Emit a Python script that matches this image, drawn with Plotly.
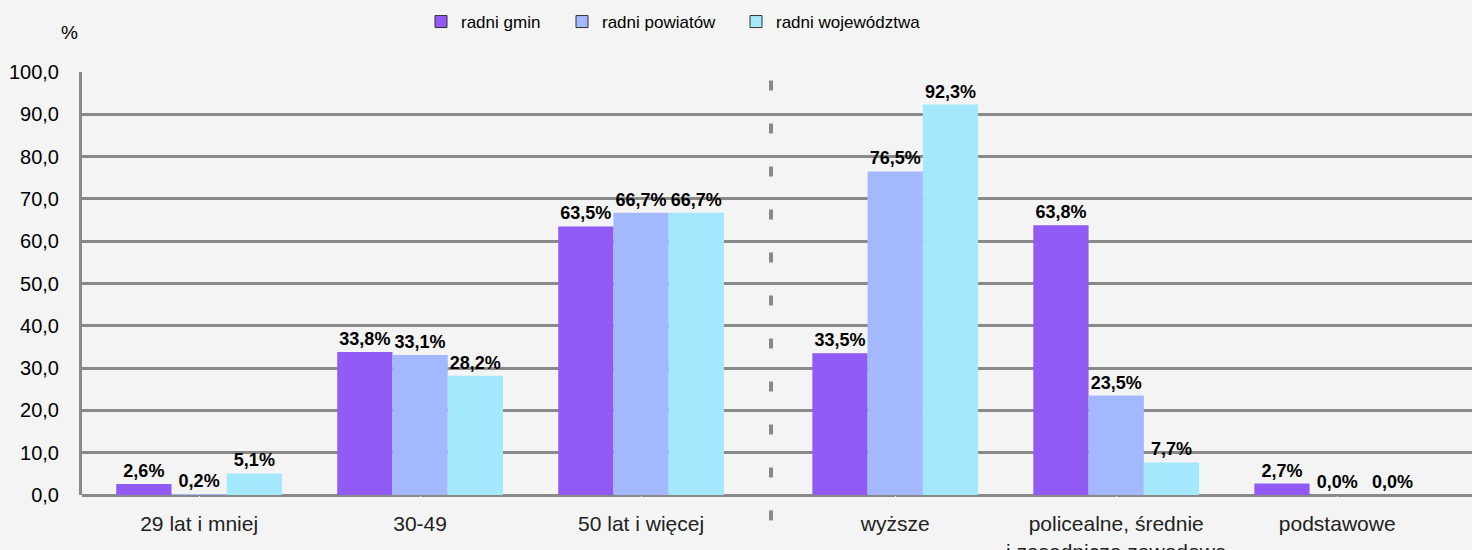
import plotly.graph_objects as go

categories = ["29 lat i mniej", "30-49", "50 lat i więcej", "wyższe",
              "policealne, średnie<br>i zasadnicze zawodowe", "podstawowe"]
cat_pos = [0, 1, 2, 3.15, 4.15, 5.15]
series_names = ["radni gmin", "radni powiatów", "radni województwa"]
gmin = [2.6, 33.8, 63.5, 33.5, 63.8, 2.7]
powiatow = [0.2, 33.1, 66.7, 76.5, 23.5, 0.0]
wojewodztwa = [5.1, 28.2, 66.7, 92.3, 7.7, 0.0]
colors = ["#915AF5", "#A3B8FF", "#A3E8FD"]
yticks = [0, 10, 20, 30, 40, 50, 60, 70, 80, 90, 100]
legend_x_px = [421, 562, 736]
BG = "#F4F4F4"
FONT = "Liberation Sans, Arial, sans-serif"

fig = go.Figure()
for name, vals, col in zip(series_names, [gmin, powiatow, wojewodztwa], colors):
    fig.add_trace(go.Bar(
        x=cat_pos, y=vals, name=name, offsetgroup=name,
        marker=dict(color=col, line=dict(width=0)),
        texttemplate="%{y:.1f}%", textposition="outside", cliponaxis=False,
        constraintext="none",
        textfont=dict(family=FONT, size=18, color="black", weight="bold"),
        showlegend=False, hoverinfo="skip"))

legend_ids = ["legend", "legend2", "legend3"]
for name, col, lid in zip(series_names, colors, legend_ids):
    fig.add_trace(go.Bar(x=[None], y=[None], name=name, offsetgroup=name, legend=lid,
                         marker=dict(color=col, line=dict(color="#333333", width=1))))

fig.add_shape(type="line", xref="x", yref="paper", x0=2.588, x1=2.588, y0=-0.06, y1=1.04,
              line=dict(color="#898989", width=4, dash="10px,33px"))

fig.add_annotation(text="%", xref="paper", yref="paper", x=(69 - 82) / 1390, y=(495 - 32) / 423,
                   xanchor="center", yanchor="middle",
                   showarrow=False, font=dict(family=FONT, size=19, color="black"))

legend_common = dict(orientation="h", xref="container", yref="container",
                     xanchor="left", y=1 - 22 / 550, yanchor="middle",
                     font=dict(size=17, family=FONT, color="black"), bgcolor="rgba(0,0,0,0)")
legend_layout = {}
for lid, px in zip(legend_ids, legend_x_px):
    legend_layout[lid] = dict(legend_common, x=px / 1472)

fig.update_layout(
    width=1472, height=550,
    margin=dict(l=82, r=0, t=72, b=55, autoexpand=False),
    paper_bgcolor=BG, plot_bgcolor=BG,
    barmode="group", bargap=0.25, bargroupgap=0,
    separators=", ",
    font=dict(family=FONT, size=20, color="black"),
    xaxis=dict(range=[-0.53, 5.76], tickvals=cat_pos, ticktext=categories,
               showgrid=False, zeroline=False, showline=False,
               ticks="outside", ticklen=10, tickcolor=BG,
               tickfont=dict(size=21, color="#222222")),
    yaxis=dict(range=[0, 100], tickvals=yticks, tickformat=".1f",
               showgrid=True, gridcolor="#898989", gridwidth=3,
               zeroline=True, zerolinecolor="#898989", zerolinewidth=3,
               showline=True, linecolor="#898989", linewidth=3,
               ticks="outside", ticklen=16, tickcolor=BG,
               tickfont=dict(size=20, color="black")),
    **legend_layout,
)

fig.write_html("out.html", config={"displayModeBar": False},
               post_script="document.body.style.margin='0';document.body.style.overflow='hidden';")
